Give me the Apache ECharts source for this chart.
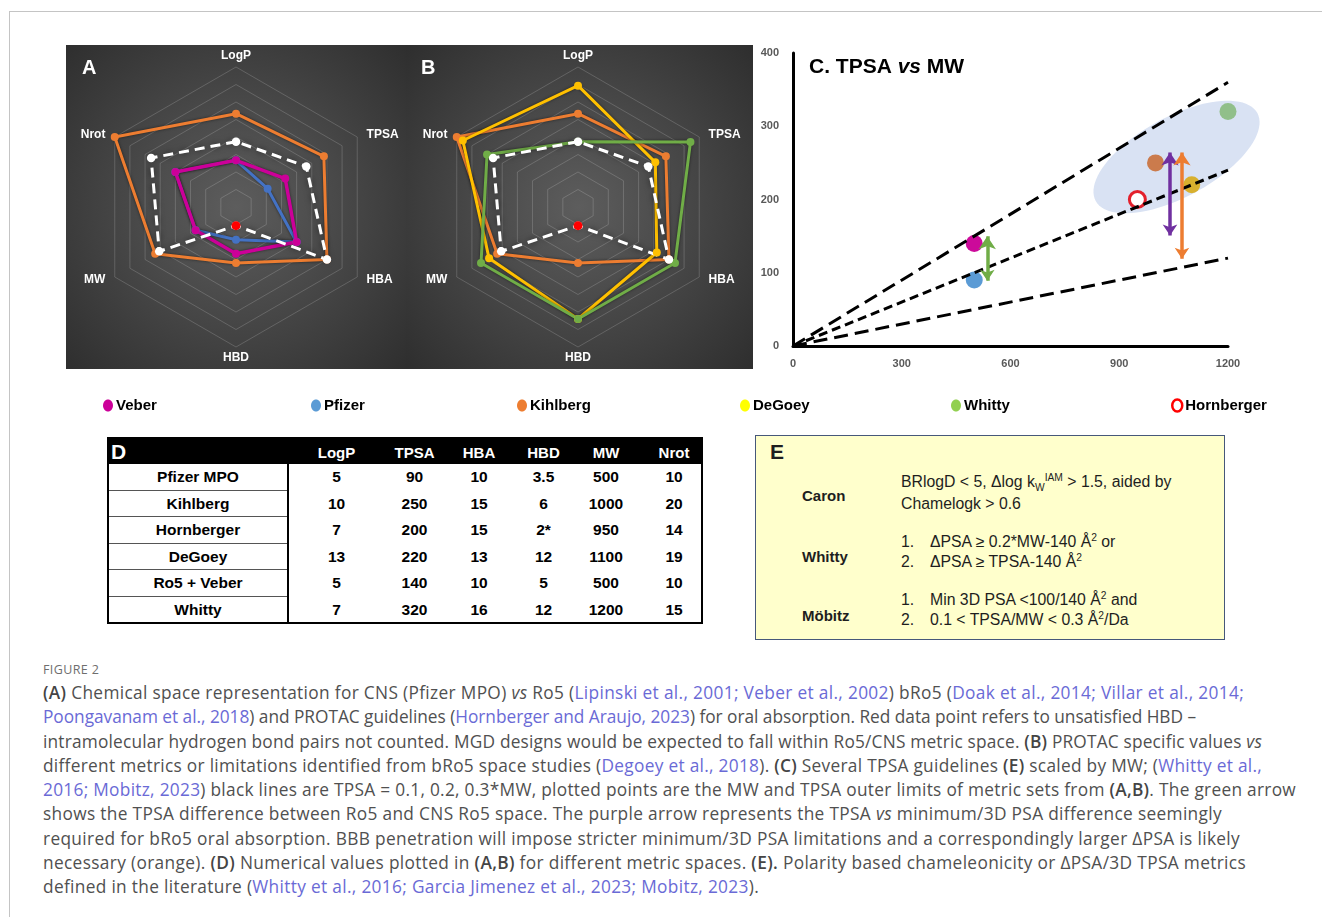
<!DOCTYPE html>
<html>
<head>
<meta charset="utf-8">
<title>Figure 2</title>
<script src="https://cdn.jsdelivr.net/npm/echarts@6.0.0/dist/echarts.min.js"></script>
<style>
  html, body { margin:0; padding:0; background:#fff; }
  body { width:1322px; height:917px; position:relative; overflow:hidden; font-family:"Liberation Sans", Arial, sans-serif; }
  #frame { position:absolute; left:9px; top:11px; width:1400px; height:1000px; border-top:1px solid #c4c4c4; border-left:1px solid #c4c4c4; }
  #chart { position:absolute; left:0; top:0; width:1322px; height:432px; }
  .abs { position:absolute; white-space:nowrap; }
  #tableD { position:absolute; left:107px; top:437px; width:596px; height:187px; box-sizing:border-box; border:2px solid #000; }
  #panelE { position:absolute; left:755px; top:435px; width:470px; height:205px; box-sizing:border-box; border:1.5px solid #46587a; background:#ffffcc; color:#1e1e1e; }
  #caption { position:absolute; left:43px; top:658px; font-family:"Open Sans", "Noto Sans", sans-serif; color:#505050; }
  #caption .fig { font-size:12.5px; letter-spacing:0.4px; color:#6e6e6e; height:22px; line-height:22px; margin-top:1px; }
  #caption .ln { display:block; white-space:nowrap; font-size:17.3px; line-height:24.3px; height:24.3px; }
  #caption b { font-weight:600; color:#444; }
  #caption a { color:#6a6ad6; text-decoration:none; }
  sup, sub { font-size:65%; line-height:0; }
</style>
</head>
<body>
<div id="frame"></div>
<div id="chart"></div>
<div id="tableD"></div>
<div id="panelE"></div>
<div id="caption"></div>
<script>
// ---------------- DATA ----------------
const metrics = ['LogP', 'TPSA', 'HBA', 'HBD', 'MW', 'Nrot'];
const axisMax = [15, 345, 20, 15, 1500, 20];
const tableRows = ['Pfizer MPO', 'Kihlberg', 'Hornberger', 'DeGoey', 'Ro5 + Veber', 'Whitty'];
const pfizerMPO  = [5, 90, 10, 3.5, 500, 10];
const kihlberg   = [10, 250, 15, 6, 1000, 20];
const hornberger = [7, 200, 15, 2, 950, 14];
const degoey     = [13, 220, 13, 12, 1100, 19];
const ro5Veber   = [5, 140, 10, 5, 500, 10];
const whitty     = [7, 320, 16, 12, 1200, 15];
const hornbergerNote = '*';            // HBD footnote marker in table D
const mwTicks = [0, 300, 600, 900, 1200];
const tpsaTicks = [0, 100, 200, 300, 400];
const guideEndsAt1200 = [120, 240, 360]; // TPSA = 0.1, 0.2, 0.3 * MW at MW 1200
const greenArrow  = [[536, 89], [536, 150]];
const purpleArrow = [[1040, 151], [1040, 264]];
const orangeArrow = [[1073, 119], [1073, 264]];
const bro5Region  = [[1058, 258]];      // centre of shaded bRo5 ellipse

// ---------------- STYLE / LAYOUT ----------------
const FONT = '"Liberation Sans", Arial, sans-serif';
const order = [0, 5, 4, 3, 2, 1]; // LogP top, then clockwise TPSA,HBA,HBD,MW,Nrot
const reorder = arr => order.map(i => arr[i]);
const ellipseStyle = { a: 92, b: 40, angle: 28.5, color: '#d9e2f3' };

function radarComp(cx) {
  return {
    center: [cx, 207], radius: 140, startAngle: 90, splitNumber: 8, shape: 'polygon',
    indicator: order.map(i => ({ name: metrics[i], min: 0, max: axisMax[i] })),
    nameGap: 5,
    axisName: { color: '#ffffff', fontWeight: 'bold', fontSize: 12, fontFamily: FONT, padding: [0, 5] },
    splitLine: { lineStyle: { color: 'rgba(255,255,255,0.17)', width: 1 } },
    splitArea: { show: false }, axisLine: { show: false }, axisTick: { show: false }, axisLabel: { show: false }
  };
}
function radarSeries(ri, name, values, color, width, dashed) {
  return {
    type: 'radar', radarIndex: ri, name: name, symbol: 'circle', symbolSize: dashed ? 8.5 : 8,
    data: [{ name: name, value: reorder(values) }],
    lineStyle: { color: color, width: width, type: dashed ? [10, 6] : 'solid',
                 shadowColor: 'rgba(0,0,0,0.55)', shadowBlur: dashed ? 6 : 3 },
    itemStyle: { color: color }, areaStyle: null, silent: true
  };
}
function scatterSeries(name, values, color, ring) {
  return {
    type: 'scatter', name: name, symbolSize: ring ? 16 : 17, z: 3,
    data: [[values[4], values[1]]],
    itemStyle: ring ? { color: '#ffffff', borderColor: '#e3202c', borderWidth: 3, opacity: 1 }
                    : { color: color, opacity: 1 }
  };
}
function guideSeries(endY, dash) {
  return { type: 'line', name: 'guide', data: [[0, 0], [mwTicks[mwTicks.length - 1], endY]],
           showSymbol: false, symbol: 'none', z: 4, silent: true,
           lineStyle: { color: '#000', width: 3, type: dash } };
}
function arrowSeries(coords, color) {
  return { type: 'lines', coordinateSystem: 'cartesian2d', z: 5, silent: true,
           symbol: ['arrow', 'arrow'], symbolSize: [11, 13],
           lineStyle: { color: color, width: 3.5, opacity: 1, curveness: 0 },
           itemStyle: { color: color },
           data: [{ coords: coords }] };
}
const ellipsePath = 'path://M0,6 C0,2.7 2.2,0 5,0 C7.8,0 10,2.7 10,6 C10,9.3 7.8,12 5,12 C2.2,12 0,9.3 0,6 Z';
const legendSpec = [
  { name: 'Veber', color: '#cc0099', left: 103 },
  { name: 'Pfizer', color: '#5b9bd5', left: 311 },
  { name: 'Kihlberg', color: '#ed7d31', left: 517 },
  { name: 'DeGoey', color: '#ffff00', left: 740 },
  { name: 'Whitty', color: '#92d050', left: 951 },
  { name: 'Hornberger', color: '#ff0000', left: 1171, ring: true }
];

const baseGraphic = [
  { type: 'rect', id: 'bgA', z: -10, shape: { x: 66, y: 45, width: 340, height: 324 },
    style: { fill: new echarts.graphic.RadialGradient(0.5, 0.5, 0.78, [{ offset: 0, color: '#5d5d5d' }, { offset: 1, color: '#2b2b2b' }]) } },
  { type: 'rect', id: 'bgB', z: -10, shape: { x: 406, y: 45, width: 347, height: 324 },
    style: { fill: new echarts.graphic.RadialGradient(0.5, 0.5, 0.78, [{ offset: 0, color: '#5d5d5d' }, { offset: 1, color: '#2b2b2b' }]) } },
  { type: 'text', id: 'labA', z: 50, x: 82, y: 58, style: { text: 'A', fill: '#fff', font: 'bold 20px ' + FONT } },
  { type: 'text', id: 'labB', z: 50, x: 421, y: 58, style: { text: 'B', fill: '#fff', font: 'bold 20px ' + FONT } }
];

const option = {
  animation: false,
  backgroundColor: 'transparent',
  title: {
    text: '{a|C. TPSA }{b|vs}{a| MW}', left: 809, top: 57, padding: 0,
    textStyle: { rich: {
      a: { fontSize: 21, fontWeight: 'bold', color: '#000', fontFamily: FONT },
      b: { fontSize: 21, fontWeight: 'bold', fontStyle: 'italic', color: '#000', fontFamily: FONT } } }
  },
  legend: legendSpec.map(s => ({
    left: s.left, top: 398, padding: 0, itemWidth: 10, itemHeight: 12, selectedMode: false,
    textStyle: { fontSize: 15, fontWeight: 'bold', color: '#000', fontFamily: FONT, padding: [0, 0, 0, -2] },
    data: [{ name: s.name, icon: ellipsePath,
             itemStyle: s.ring ? { color: '#fff', borderColor: s.color, borderWidth: 2.5 }
                               : { color: s.color, borderWidth: 0 } }]
  })),
  radar: [radarComp(236), radarComp(578)],
  grid: { left: 793, top: 53, width: 435, height: 293, containLabel: false, outerBoundsMode: 'none' },
  xAxis: {
    type: 'value', min: mwTicks[0], max: mwTicks[mwTicks.length - 1], interval: mwTicks[1] - mwTicks[0],
    axisLine: { show: true, onZero: false, lineStyle: { color: '#000', width: 3 } },
    axisTick: { show: false }, splitLine: { show: false },
    axisLabel: { color: '#595959', fontWeight: 'bold', fontSize: 11, fontFamily: FONT, margin: 12,
                 formatter: v => String(v) }
  },
  yAxis: {
    type: 'value', min: tpsaTicks[0], max: tpsaTicks[tpsaTicks.length - 1], interval: tpsaTicks[1] - tpsaTicks[0],
    axisLine: { show: true, onZero: false, lineStyle: { color: '#000', width: 3 } },
    axisTick: { show: false }, splitLine: { show: false },
    axisLabel: { color: '#595959', fontWeight: 'bold', fontSize: 11, fontFamily: FONT, margin: 14,
                 formatter: v => String(v) }
  },
  graphic: baseGraphic,
  series: [
    radarSeries(0, 'Kihlberg', kihlberg, '#ed7d31', 3),
    radarSeries(0, 'Pfizer', pfizerMPO, '#4472c4', 3),
    radarSeries(0, 'Veber', ro5Veber, '#cc0099', 3.5),
    radarSeries(0, 'Hornberger', hornberger, '#ffffff', 3, true),
    radarSeries(1, 'Kihlberg', kihlberg, '#ed7d31', 3),
    radarSeries(1, 'DeGoey', degoey, '#ffc000', 3),
    radarSeries(1, 'Whitty', whitty, '#70ad47', 3),
    radarSeries(1, 'Hornberger', hornberger, '#ffffff', 3, true),
    {
      type: 'custom', name: 'bRo5 region', coordinateSystem: 'cartesian2d', z: 1, silent: true,
      data: bro5Region,
      renderItem: function (params, api) {
        const c = api.coord([api.value(0), api.value(1)]);
        const t = ellipseStyle.angle * Math.PI / 180, ct = Math.cos(t), st = Math.sin(t);
        const pts = [];
        for (let k = 0; k < 90; k++) {
          const u = k / 90 * 2 * Math.PI;
          const ex = ellipseStyle.a * Math.cos(u), ey = ellipseStyle.b * Math.sin(u);
          pts.push([c[0] + ex * ct + ey * st, c[1] - ex * st + ey * ct]);
        }
        return { type: 'polygon', shape: { points: pts }, style: { fill: ellipseStyle.color } };
      }
    },
    scatterSeries('Veber', ro5Veber, '#cc0a9a'),
    scatterSeries('Pfizer', pfizerMPO, '#5b9bd5'),
    scatterSeries('Kihlberg', kihlberg, '#cb7b4c'),
    scatterSeries('DeGoey', degoey, '#d8b02e'),
    scatterSeries('Whitty', whitty, '#91bf8a'),
    scatterSeries('Hornberger', hornberger, '#e3202c', true),
    guideSeries(guideEndsAt1200[0], [14, 7]),
    guideSeries(guideEndsAt1200[1], [9, 5]),
    guideSeries(guideEndsAt1200[2], [14, 7]),
    arrowSeries(greenArrow, '#70ad47'),
    arrowSeries(purpleArrow, '#7030a0'),
    arrowSeries(orangeArrow, '#ed7d31')
  ]
};

const chart = echarts.init(document.getElementById('chart'), null, { renderer: 'canvas' });
chart.setOption(option);

// Red HBD points (unsatisfied HBD) placed through the radar coordinate systems
try {
  const gm = chart.getModel();
  const dots = [];
  [0, 1].forEach(function (ri) {
    const cs = gm.getComponent('radar', ri).coordinateSystem;
    const p = cs.dataToPoint(hornberger[3], order.indexOf(3));
    dots.push({ type: 'circle', id: 'hbd' + ri, z: 100, shape: { cx: p[0], cy: p[1], r: 4.5 }, style: { fill: '#ff0000' } });
  });
  chart.setOption({ graphic: baseGraphic.concat(dots) });
} catch (e) { console.log(e); }

// ---------------- TABLE D ----------------
(function () {
  const T = document.getElementById('tableD');
  const colCenters = [227.5, 305.5, 370, 434.5, 497, 565]; // relative to table left (inside border)
  const headH = 25, rowH = 26.6;
  const head = document.createElement('div');
  head.className = 'abs';
  head.style.cssText = 'left:0;top:0;width:592px;height:' + headH + 'px;background:#000;';
  T.appendChild(head);
  const d = document.createElement('div');
  d.className = 'abs';
  d.style.cssText = 'left:2px;top:0;height:' + headH + 'px;line-height:' + headH + 'px;color:#fff;font-weight:bold;font-size:21px;';
  d.textContent = 'D';
  T.appendChild(d);
  metrics.forEach(function (m, j) {
    const h = document.createElement('div');
    h.className = 'abs';
    h.style.cssText = 'left:' + (colCenters[j] - 40) + 'px;width:80px;text-align:center;top:1px;height:' + headH + 'px;line-height:' + headH + 'px;color:#fff;font-weight:bold;font-size:15px;';
    h.textContent = m;
    T.appendChild(h);
  });
  const rowsVals = [pfizerMPO, kihlberg, hornberger, degoey, ro5Veber, whitty];
  tableRows.forEach(function (lab, i) {
    const top = headH + i * rowH;
    const c = document.createElement('div');
    c.className = 'abs';
    c.style.cssText = 'left:0;top:' + top + 'px;width:178px;height:' + (rowH - 1) + 'px;line-height:' + (rowH - 1) + 'px;text-align:center;font-weight:bold;font-size:15.5px;color:#000;' +
      (i < tableRows.length - 1 ? 'border-bottom:1.5px solid #555;' : '');
    c.textContent = lab;
    T.appendChild(c);
    rowsVals[i].forEach(function (v, j) {
      const e = document.createElement('div');
      e.className = 'abs';
      e.style.cssText = 'left:' + (colCenters[j] - 40) + 'px;width:80px;text-align:center;top:' + top + 'px;height:' + rowH + 'px;line-height:' + rowH + 'px;font-weight:bold;font-size:15.5px;color:#000;';
      e.textContent = String(v) + (lab === 'Hornberger' && metrics[j] === 'HBD' ? hornbergerNote : '');
      T.appendChild(e);
    });
  });
  const sep = document.createElement('div');
  sep.className = 'abs';
  sep.style.cssText = 'left:178px;top:' + headH + 'px;width:2px;bottom:0;background:#000;';
  T.appendChild(sep);
})();

// ---------------- PANEL E ----------------
(function () {
  const E = document.getElementById('panelE');
  const ox = 755, oy = 435;
  function put(html, x, yc, css) {
    const el = document.createElement('div');
    el.className = 'abs';
    el.style.cssText = 'left:' + (x - ox) + 'px;top:' + (yc - oy - 11) + 'px;height:22px;line-height:22px;' + (css || '');
    el.innerHTML = html;
    E.appendChild(el);
  }
  const lab = 'font-weight:bold;font-size:15px;';
  const txt = 'font-size:15.8px;';
  put('E', 769, 451, 'font-weight:bold;font-size:21px;');
  put('Caron', 801, 495, lab);
  put('Whitty', 801, 556, lab);
  put('Möbitz', 801, 615, lab);
  put('BRlogD &lt; 5, Δlog k<sub>W</sub><sup>IAM</sup> &gt; 1.5, aided by', 900, 481, txt);
  put('Chamelogk &gt; 0.6', 900, 503, txt);
  put('1.', 900, 541, txt); put('ΔPSA ≥ 0.2*MW-140 Å<sup>2</sup> or', 929, 541, txt);
  put('2.', 900, 561, txt); put('ΔPSA ≥ TPSA-140 Å<sup>2</sup>', 929, 561, txt);
  put('1.', 900, 599, txt); put('Min 3D PSA &lt;100/140 Å<sup>2</sup> and', 929, 599, txt);
  put('2.', 900, 619, txt); put('0.1 &lt; TPSA/MW &lt; 0.3 Å<sup>2</sup>/Da', 929, 619, txt);
})();

// ---------------- CAPTION ----------------
(function () {
  const C = document.getElementById('caption');
  const lines = [
    '<b>(A)</b> Chemical space representation for CNS (Pfizer MPO) <i>vs</i> Ro5 (<a>Lipinski et al., 2001; Veber et al., 2002</a>) bRo5 (<a>Doak et al., 2014; Villar et al., 2014;</a>',
    '<a>Poongavanam et al., 2018</a>) and PROTAC guidelines (<a>Hornberger and Araujo, 2023</a>) for oral absorption. Red data point refers to unsatisfied HBD –',
    'intramolecular hydrogen bond pairs not counted. MGD designs would be expected to fall within Ro5/CNS metric space. <b>(B)</b> PROTAC specific values <i>vs</i>',
    'different metrics or limitations identified from bRo5 space studies (<a>Degoey et al., 2018</a>). <b>(C)</b> Several TPSA guidelines <b>(E)</b> scaled by MW; (<a>Whitty et al.,</a>',
    '<a>2016; Mobitz, 2023</a>) black lines are TPSA = 0.1, 0.2, 0.3*MW, plotted points are the MW and TPSA outer limits of metric sets from <b>(A,B)</b>. The green arrow',
    'shows the TPSA difference between Ro5 and CNS Ro5 space. The purple arrow represents the TPSA <i>vs</i> minimum/3D PSA difference seemingly',
    'required for bRo5 oral absorption. BBB penetration will impose stricter minimum/3D PSA limitations and a correspondingly larger ΔPSA is likely',
    'necessary (orange). <b>(D)</b> Numerical values plotted in <b>(A,B)</b> for different metric spaces. <b>(E).</b> Polarity based chameleonicity or ΔPSA/3D TPSA metrics',
    'defined in the literature (<a>Whitty et al., 2016; Garcia Jimenez et al., 2023; Mobitz, 2023</a>).'
  ];
  const lineEnds = [1244, 1196, 1262, 1262, 1296, 1222, 1240, 1246, 759];
  const f = document.createElement('div');
  f.className = 'fig';
  f.textContent = 'FIGURE 2';
  C.appendChild(f);
  lines.forEach(function (h, i) {
    const s = document.createElement('span');
    s.className = 'ln';
    const inner = document.createElement('span');
    inner.innerHTML = h;
    s.appendChild(inner);
    C.appendChild(s);
    const w = inner.getBoundingClientRect().width;
    const target = lineEnds[i] - 43;
    const n = inner.textContent.length;
    let ls = (target - w) / n;
    ls = Math.max(-0.6, Math.min(0.6, ls));
    inner.style.letterSpacing = ls.toFixed(3) + 'px';
  });
})();
</script>
</body>
</html>
